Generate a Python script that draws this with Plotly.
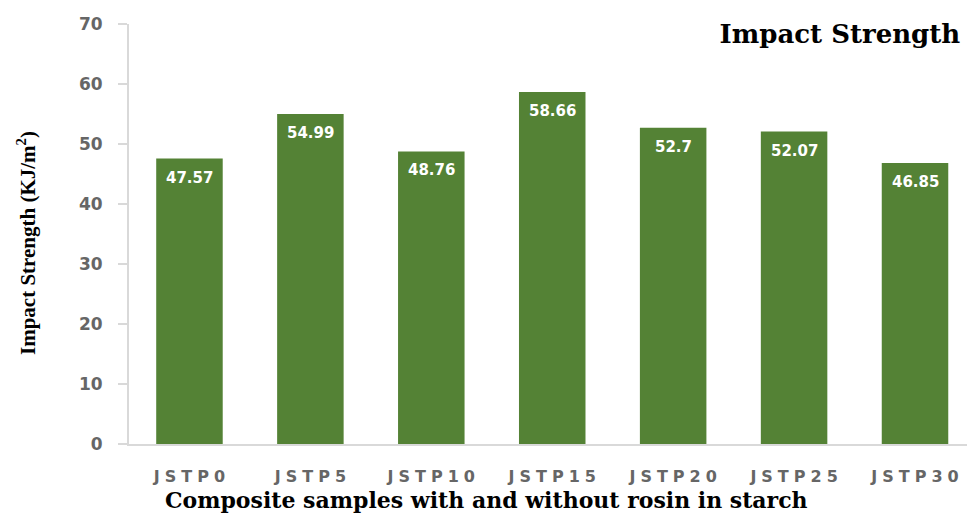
import plotly.graph_objects as go

# Impact strength of composite samples (KJ/m^2)
samples = ["JSTP0", "JSTP5", "JSTP10", "JSTP15", "JSTP20", "JSTP25", "JSTP30"]
impact_strength = [47.57, 54.99, 48.76, 58.66, 52.7, 52.07, 46.85]
value_labels = ["47.57", "54.99", "48.76", "58.66", "52.7", "52.07", "46.85"]
y_ticks = [0, 10, 20, 30, 40, 50, 60, 70]

BAR_GREEN = "#548235"
AXIS_GREY = "#d9d9d9"
TICK_GREY = "#666666"

fig = go.Figure()
fig.add_trace(go.Bar(
    x=list(range(len(samples))),
    y=impact_strength,
    width=0.55,
    marker=dict(color=BAR_GREEN, line=dict(width=0)),
    hoverinfo="skip",
))

# value labels sitting just inside the top of each bar
for i, (v, lab) in enumerate(zip(impact_strength, value_labels)):
    fig.add_annotation(
        x=i, y=v, xref="x", yref="y", text=lab, showarrow=False,
        yshift=-19,
        font=dict(family="DejaVu Sans", size=15, color="white", weight="bold"),
    )

# x-axis caption, centred on the whole figure
fig.add_annotation(
    text="Composite samples with and without rosin in starch",
    xref="paper", yref="paper", x=(486 - 129) / 838, y=0,
    xanchor="center", yanchor="middle", yshift=-56, showarrow=False,
    font=dict(family="DejaVu Serif", size=22, color="black", weight="bold"),
)

# y-axis caption, rotated, slightly below the plot's vertical centre
fig.add_annotation(
    text="Impact Strength (KJ/m<sup>2</sup>)",
    xref="paper", yref="paper", x=(27 - 129) / 838, y=(444 - 243) / 420,
    xanchor="center", yanchor="middle", textangle=-90, showarrow=False,
    font=dict(family="Liberation Serif", size=21, color="black", weight="bold"),
)

fig.update_layout(
    width=967, height=513,
    margin=dict(l=129, r=0, t=24, b=69),
    paper_bgcolor="white", plot_bgcolor="white",
    showlegend=False,
    title=dict(
        text="Impact Strength",
        xref="container", yref="container",
        x=0.993, xanchor="right", y=1 - 34 / 513, yanchor="middle",
        font=dict(family="DejaVu Serif", size=26, color="black", weight="bold"),
    ),
    xaxis=dict(
        range=[-0.5, 6.43],
        tickmode="array", tickvals=list(range(len(samples))), ticktext=samples,
        showline=True, linecolor=AXIS_GREY, linewidth=2,
        ticks="", showgrid=False, zeroline=False,
        ticklabelstandoff=17,
        tickfont=dict(family="DejaVu Sans", size=16, color=TICK_GREY, weight="bold"),
    ),
    yaxis=dict(
        range=[0, 70],
        tickmode="array", tickvals=y_ticks,
        showline=True, linecolor=AXIS_GREY, linewidth=2,
        ticks="outside", ticklen=9, tickcolor=AXIS_GREY, tickwidth=2,
        showgrid=False, zeroline=False,
        ticklabelstandoff=12,
        tickfont=dict(family="DejaVu Sans", size=17, color=TICK_GREY, weight="bold"),
    ),
)

# widen the letter spacing of the category labels
spacing_js = """
document.querySelectorAll('.xtick text').forEach(function (t) {
    t.style.letterSpacing = '5px';
    t.setAttribute('dx', '2.5');
});
"""

fig.write_html("out.html", post_script=spacing_js)
